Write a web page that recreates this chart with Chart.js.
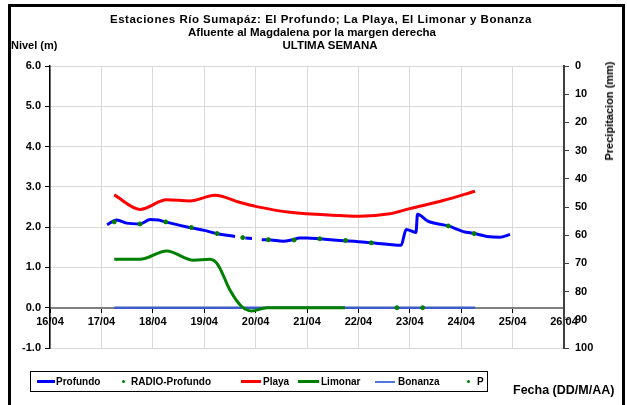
<!DOCTYPE html>
<html lang="es">
<head>
<meta charset="utf-8">
<script src="https://cdn.jsdelivr.net/npm/chart.js@4/dist/chart.umd.min.js"></script>
<style>
    body { margin: 0; width: 627px; height: 405px; overflow: hidden; position: relative; background: #fff; font-family: "Liberation Sans", Arial, sans-serif; font-weight: bold; color: #000; }
    #marco { position: absolute; left: 8px; top: 4px; width: 611px; height: 430px; border: 3px solid #000; }
    canvas { position: absolute; left: 0; top: 0; }
    .txt { position: absolute; white-space: nowrap; }
    .titulo { width: 640px; text-align: center; font-size: 11.5px; line-height: 13px; }
    #leyenda { position: absolute; left: 30px; top: 371px; width: 456px; height: 19px; border: 1px solid #000; font-size: 10px; }
    #leyenda .item { position: absolute; top: 0; height: 19px; line-height: 19px; }
    #leyenda .linea { position: absolute; top: 8px; height: 3px; }
    #leyenda .punto { position: absolute; top: 8px; width: 3px; height: 3px; border-radius: 50%; }
</style>
</head>
<body>
<div id="marco"></div>
<canvas id="grafico" width="627" height="405"></canvas>
<div class="txt titulo" style="left:1px;top:13px;letter-spacing:0.5px">Estaciones Río Sumapáz: El Profundo; La Playa, El Limonar y Bonanza</div>
<div class="txt titulo" style="left:-8px;top:26px">Afluente al Magdalena por la margen derecha</div>
<div class="txt titulo" style="left:10px;top:39px">ULTIMA SEMANA</div>
<div class="txt" style="left:11px;top:39px;font-size:11px">Nivel (m)</div>
<div class="txt" style="left:609px;top:111px;font-size:11px;transform:translate(-50%,-50%) rotate(-90deg)">Precipitacion (mm)</div>
<div class="txt" style="left:513px;top:383px;font-size:12.5px">Fecha (DD/M/AA)</div>
<div id="leyenda"></div>
<script>
"use strict";

// datos (dia de abril, nivel en m)
const profundoDias = [17.11, 17.30, 17.49, 17.75, 17.95, 18.11, 18.24, 18.72, 19.00, 19.24, 19.60, 19.70, 19.80, 19.93, 20.03, 20.12, 20.30, 20.54, 20.70, 20.86, 21.00, 21.25, 21.64, 22.00, 22.26, 22.60, 22.83, 22.93, 23.12, 23.15, 23.35, 23.75, 24.04, 24.26, 24.50, 24.75, 24.95];
const profundoNivel = [2.06, 2.18, 2.10, 2.08, 2.19, 2.18, 2.13, 1.99, 1.92, 1.84, 1.77, null, 1.73, 1.72, null, 1.69, 1.68, 1.65, 1.68, 1.73, 1.73, 1.71, 1.67, 1.64, 1.61, 1.57, 1.55, 1.94, 1.87, 2.32, 2.15, 2.03, 1.89, 1.84, 1.77, 1.75, 1.82];

const radioDias = [17.25, 17.75, 18.25, 18.75, 19.25, 19.75, 20.25, 20.75, 21.25, 21.75, 22.25, 22.75, 23.25, 23.75, 24.25];
const radioNivel = [2.13, 2.08, 2.13, 1.99, 1.84, 1.74, 1.69, 1.68, 1.71, 1.67, 1.61, 0, 0, 2.03, 1.84];

const playaDias = [17.25, 17.75, 18.27, 18.72, 19.21, 19.70, 20.02, 20.67, 21.64, 22.03, 22.61, 23.00, 23.65, 24.27];
const playaNivel = [2.80, 2.44, 2.68, 2.65, 2.79, 2.61, 2.51, 2.37, 2.29, 2.27, 2.33, 2.46, 2.66, 2.89];

const limonarDias = [17.25, 17.75, 18.27, 18.79, 19.11, 19.27, 19.50, 19.73, 19.92, 20.22, 20.60, 21.20, 21.74];
const limonarNivel = [1.20, 1.20, 1.41, 1.18, 1.20, 1.06, 0.44, 0.03, -0.08, 0.0, 0.0, 0.0, 0.0];

const bonanzaDias = [17.25, 18.25, 19.25, 20.25, 21.25, 22.25, 23.25, 24.27];
const bonanzaNivel = [0, 0, 0, 0, 0, 0, 0, 0];

// precipitacion (mm): sin registros en la semana
const pDias = [];
const pMm = [];

const nivelTicks = { min: -1, max: 6, step: 1 };
const precipTicks = { min: 0, max: 100, step: 10 };
const fechaTicks = { min: 16, max: 26, step: 1, mes: "04" };

const toPoints = (xs, ys) => xs.map((x, i) => ({ x: x, y: ys[i] }));

const fuente = { family: "'Liberation Sans', Arial, sans-serif", size: 11, weight: "bold" };

const series = [
    { label: "Profundo", data: toPoints(profundoDias, profundoNivel), borderColor: "#0000ff", borderWidth: 3, order: 5, cubicInterpolationMode: "monotone", spanGaps: false },
    { label: "RADIO-Profundo", data: toPoints(radioDias, radioNivel), backgroundColor: "#008000", borderColor: "#008000", showLine: false, pointRadius: 2, order: 1 },
    { label: "Playa", data: toPoints(playaDias, playaNivel), borderColor: "#ff0000", borderWidth: 3, order: 4, cubicInterpolationMode: "monotone" },
    { label: "Limonar", data: toPoints(limonarDias, limonarNivel), borderColor: "#008000", borderWidth: 3, order: 2, cubicInterpolationMode: "monotone" },
    { label: "Bonanza", data: toPoints(bonanzaDias, bonanzaNivel), borderColor: "#3c5cc8", borderWidth: 2.5, order: 3 },
    { label: "P", data: toPoints(pDias, pMm), backgroundColor: "#008000", borderColor: "#008000", showLine: false, pointRadius: 2, yAxisID: "y2", order: 0 },
];
series.forEach((s) => {
    if (s.pointRadius === undefined) s.pointRadius = 0;
});

const chartOptions = {
    responsive: false,
    animation: false,
    layout: { padding: { left: 0, right: 0, top: 66, bottom: 57 } },
    plugins: { legend: { display: false }, tooltip: { enabled: false } },
    scales: {
        x: {
            type: "linear",
            position: { y: 0 },
            min: fechaTicks.min,
            max: fechaTicks.max,
            ticks: {
                stepSize: fechaTicks.step,
                autoSkip: false,
                maxRotation: 0,
                padding: 4,
                color: "#000",
                font: fuente,
                callback: (v) => `${String(v).padStart(2, "0")}/${fechaTicks.mes}`,
            },
            grid: { color: "#d9d9d9", tickColor: "#000", tickLength: 4 },
            border: { color: "#808080", width: 2 },
        },
        y: {
            position: "left",
            min: nivelTicks.min,
            max: nivelTicks.max,
            ticks: { stepSize: nivelTicks.step, padding: 4, color: "#000", font: fuente, callback: (v) => v.toFixed(1) },
            grid: { color: "#d9d9d9", tickColor: "#000", tickLength: 5 },
            border: { color: "#000", width: 1.5 },
            afterFit: (s) => { s.width = 50; },
        },
        y2: {
            position: "right",
            reverse: true,
            min: precipTicks.min,
            max: precipTicks.max,
            ticks: { stepSize: precipTicks.step, padding: 6, color: "#000", font: fuente },
            grid: { drawOnChartArea: false, tickColor: "#404040", tickLength: 5 },
            border: { color: "#404040", width: 2 },
            afterFit: (s) => { s.width = 63; },
        },
    },
};

const context = document.getElementById("grafico").getContext("2d");
const myChart = new Chart(context, {
    type: "line",
    data: { datasets: series },
    options: chartOptions,
});

// leyenda con recuadro (posiciones como en el original)
const leyendaPos = [
    { x: 6, w: 18, tx: 25 },
    { x: 91, w: 0, tx: 100 },
    { x: 210, w: 20, tx: 232 },
    { x: 267, w: 21, tx: 290 },
    { x: 344, w: 20, tx: 367 },
    { x: 436, w: 0, tx: 446 },
];
const leyenda = document.getElementById("leyenda");
series.forEach((s, i) => {
    const p = leyendaPos[i];
    if (s.showLine === false) {
        const d = document.createElement("div");
        d.className = "punto";
        d.style.left = `${p.x}px`;
        d.style.background = s.backgroundColor;
        leyenda.appendChild(d);
    } else {
        const l = document.createElement("div");
        l.className = "linea";
        l.style.left = `${p.x}px`;
        l.style.width = `${p.w}px`;
        l.style.background = s.borderColor;
        if (s.borderWidth < 3) {
            // linea fina (Bonanza)
            l.style.top = "8.5px";
            l.style.height = "2px";
            l.style.background = "#5577dd";
        }
        leyenda.appendChild(l);
    }
    const t = document.createElement("div");
    t.className = "item";
    t.style.left = `${p.tx}px`;
    t.textContent = s.label;
    leyenda.appendChild(t);
});
</script>
</body>
</html>
